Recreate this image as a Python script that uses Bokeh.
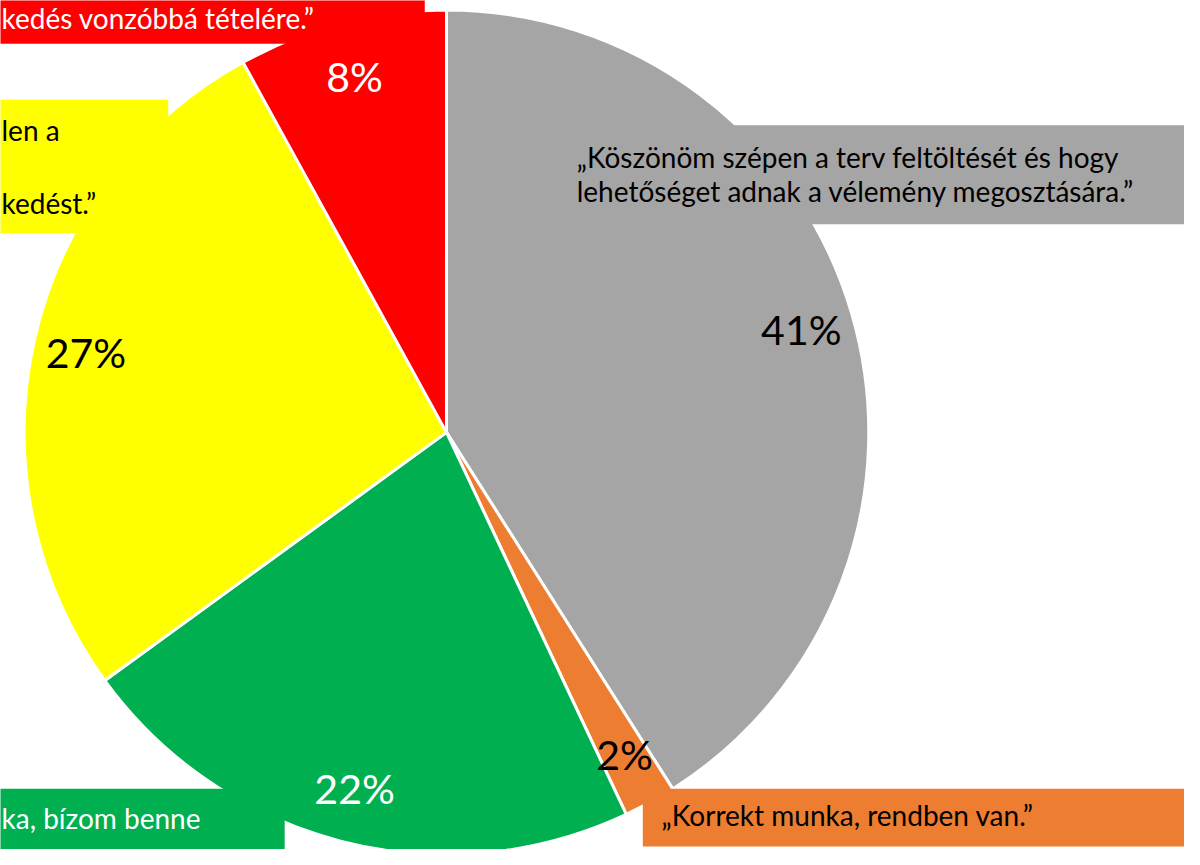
import numpy as np
from bokeh.plotting import figure
from bokeh.models import Range1d, ColumnDataSource
from bokeh.core.properties import value
from bokeh.embed import file_html
from bokeh.resources import INLINE

# ---- data ----
categories = [
    "„Köszönöm szépen a terv feltöltését és hogy lehetőséget adnak a vélemény megosztására.”",
    "„Korrekt munka, rendben van.”",
    "…ka, bízom benne",
    "…len a … kedést.”",
    "…kedés vonzóbbá tételére.”",
]
values = [41, 2, 22, 27, 8]
pct_labels = ["41%", "2%", "22%", "27%", "8%"]
colors = ["#A5A5A5", "#ED7D31", "#00B050", "#FFFF00", "#FF0000"]
pct_colors = ["black", "black", "white", "black", "white"]

# callout texts (visible parts)
gray_lines = ["„Köszönöm szépen a terv feltöltését és hogy",
              "lehetőséget adnak a vélemény megosztására.”"]
orange_lines = ["„Korrekt munka, rendben van.”"]
green_lines = ["ka, bízom benne"]
yellow_lines = ["len a", "kedést.”"]
red_lines = ["kedés vonzóbbá tételére.”"]

FONT = "Lato"

W, H = 1184, 849
p = figure(width=W, height=H, output_backend="svg", toolbar_location=None,
           x_range=Range1d(0, 1200), y_range=Range1d(-865, 0),
           min_border=0, outline_line_color=None)
p.axis.visible = False
p.grid.visible = False
p.background_fill_color = "white"
p.border_fill_color = "white"

cx, cy, r = 452, -440, 428
vals = np.array(values, dtype=float)
frac = vals / vals.sum()
cum = np.concatenate([[0], np.cumsum(frac)])
start = np.pi / 2 - 2 * np.pi * cum[:-1]
end = np.pi / 2 - 2 * np.pi * cum[1:]
src = ColumnDataSource(dict(start=start, end=end, color=colors))
p.wedge(x=cx, y=cy, radius=r, start_angle="start", end_angle="end",
        direction="clock", fill_color="color", line_color="white",
        line_width=3, source=src)

# callout boxes (pixel coords: left, right, top, bottom)
def box(l, rr, t, b, color):
    p.quad(left=l, right=rr, top=-t, bottom=-b, fill_color=color, line_color=None)

def lines(x, ys, texts, color, size="28px"):
    p.text(x=[x] * len(texts), y=[-y for y in ys], text=texts,
           text_color=color, text_font=value(FONT), text_font_size=size,
           text_align="left", text_baseline="middle")

box(-10, 430, -10, 44, colors[4])
lines(1, [18], red_lines, "white")
box(-10, 170, 101, 237, colors[3])
lines(1, [132, 206], yellow_lines, "black")
box(555, 1210, 127, 228, colors[0])
lines(584, [159, 194], gray_lines, "black")
box(-10, 288, 803, 875, colors[2])
lines(1, [833], green_lines, "white")
box(651, 1210, 803, 862, colors[1])
lines(670, [830], orange_lines, "black")

# percentage labels
mid = np.pi / 2 - 2 * np.pi * (cum[:-1] + frac / 2)
rl = 0.875 * r
lx = cx + rl * np.cos(mid)
ly = cy + rl * np.sin(mid)
p.text(x=lx, y=ly, text=pct_labels, text_color=pct_colors,
       text_font=value(FONT), text_font_size="41px",
       text_align="center", text_baseline="middle")

open("out.html", "w").write(file_html(p, INLINE))
